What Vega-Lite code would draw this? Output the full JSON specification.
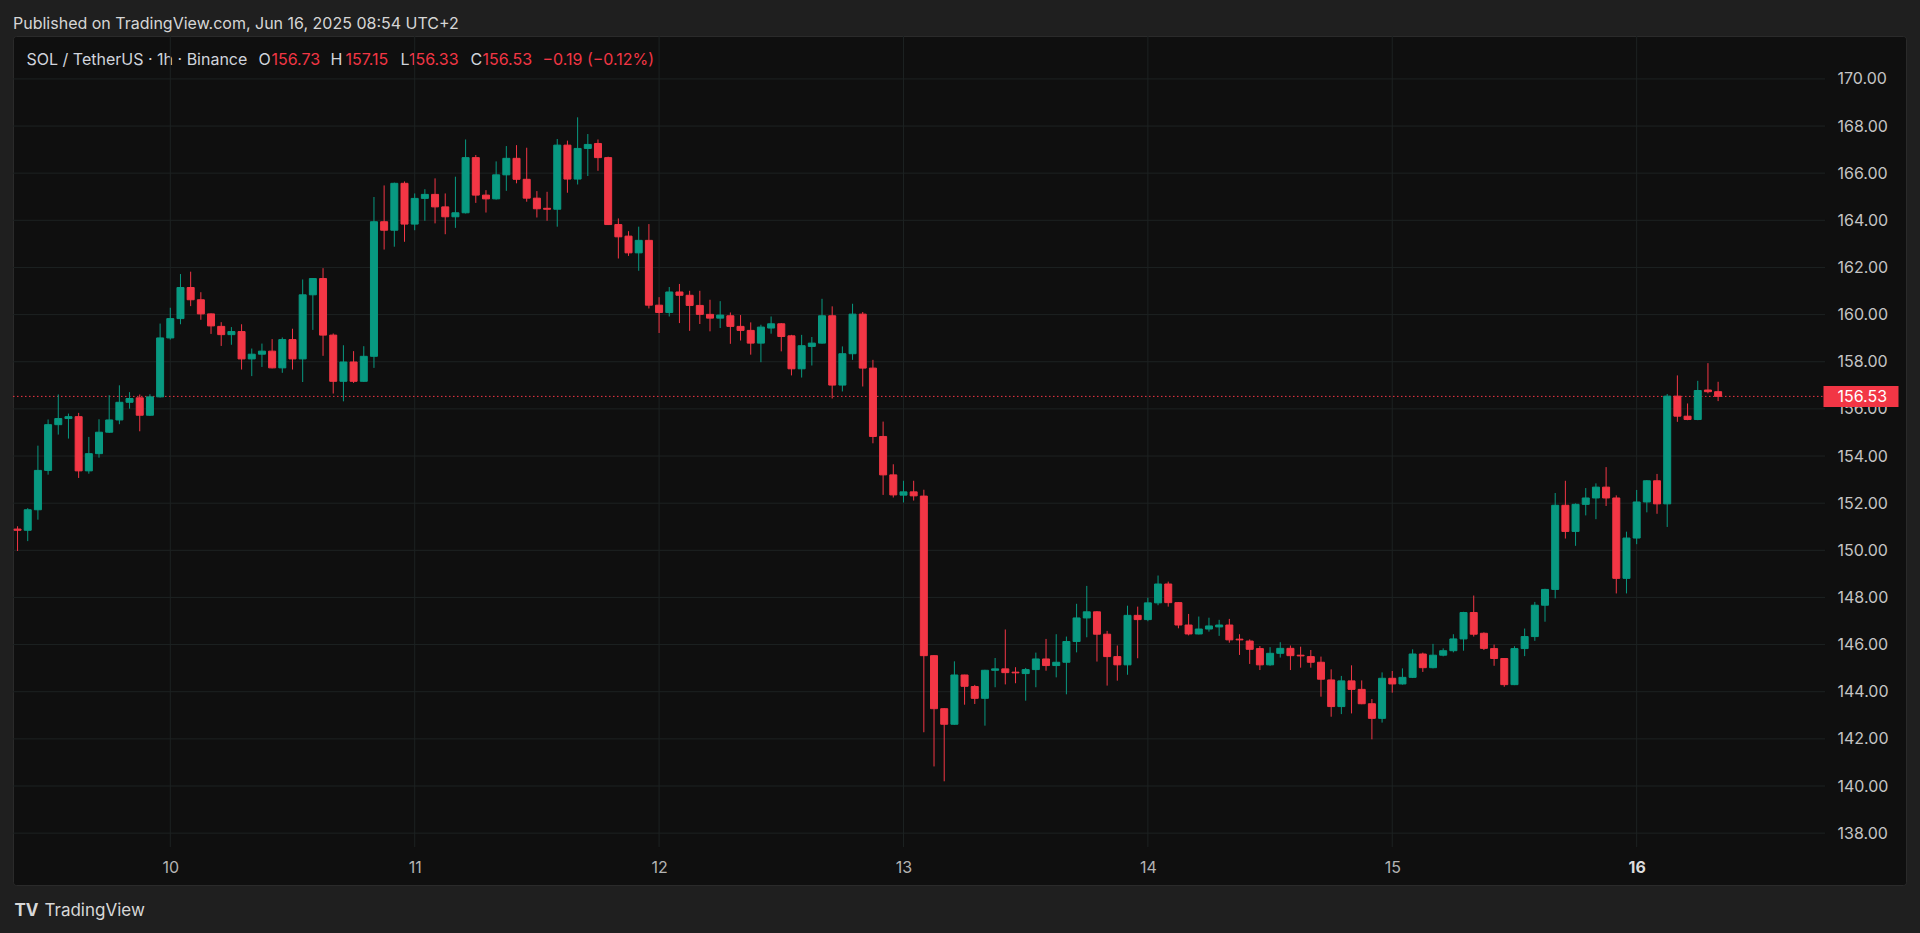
{
"$schema": "https://vega.github.io/schema/vega-lite/v6.json",
"width": 1893, "height": 849,
"autosize": {"type": "none"},
"padding": {"left": 13, "top": 36, "right": 14, "bottom": 48},
"background": "#1f1f1f",
"title": {"text": "Published on TradingView.com, Jun 16, 2025 08:54 UTC+2", "anchor": "start", "frame": "group", "orient": "top", "offset": 9, "dy": 18, "baseline": "alphabetic", "font": "Inter", "fontSize": 16, "fontWeight": "normal", "color": "#d6d6d6"},
"config": {
  "view": {"fill": "#0f0f0f", "stroke": "#2a2a2a", "strokeWidth": 1, "cornerRadius": 3},
  "axis": {"grid": false, "domain": false, "ticks": false, "labels": false, "labelFont": "Inter", "labelFontSize": 16, "labelColor": "#c4c4c4", "titleFont": "Inter", "titleFontSize": 16, "titleFontWeight": "normal", "titleAngle": 0, "titleAlign": "left", "titleBaseline": "alphabetic", "titleColor": "#d1d4dc", "titlePadding": 0, "offset": 0},
  "axisX": {"titleAngle": 0},
  "axisY": {"titleAngle": 0}
},
"datasets": {
"candles": [
{"t":"2025-06-09T09:00:00Z","o":150.90,"h":151.02,"l":149.97,"c":150.85},
{"t":"2025-06-09T10:00:00Z","o":150.85,"h":151.79,"l":150.39,"c":151.72},
{"t":"2025-06-09T11:00:00Z","o":151.72,"h":154.44,"l":151.30,"c":153.39},
{"t":"2025-06-09T12:00:00Z","o":153.39,"h":155.55,"l":153.21,"c":155.33},
{"t":"2025-06-09T13:00:00Z","o":155.33,"h":156.61,"l":154.91,"c":155.59},
{"t":"2025-06-09T14:00:00Z","o":155.59,"h":155.80,"l":154.74,"c":155.67},
{"t":"2025-06-09T15:00:00Z","o":155.67,"h":155.83,"l":153.07,"c":153.37},
{"t":"2025-06-09T16:00:00Z","o":153.37,"h":154.81,"l":153.25,"c":154.10},
{"t":"2025-06-09T17:00:00Z","o":154.10,"h":155.56,"l":153.93,"c":155.01},
{"t":"2025-06-09T18:00:00Z","o":155.01,"h":156.58,"l":154.98,"c":155.53},
{"t":"2025-06-09T19:00:00Z","o":155.53,"h":157.00,"l":155.35,"c":156.28},
{"t":"2025-06-09T20:00:00Z","o":156.28,"h":156.71,"l":156.01,"c":156.44},
{"t":"2025-06-09T21:00:00Z","o":156.47,"h":156.61,"l":155.05,"c":155.73},
{"t":"2025-06-09T22:00:00Z","o":155.73,"h":156.62,"l":155.70,"c":156.51},
{"t":"2025-06-09T23:00:00Z","o":156.51,"h":159.62,"l":156.48,"c":159.01},
{"t":"2025-06-10T00:00:00Z","o":159.01,"h":160.29,"l":158.94,"c":159.83},
{"t":"2025-06-10T01:00:00Z","o":159.83,"h":161.72,"l":159.59,"c":161.15},
{"t":"2025-06-10T02:00:00Z","o":161.15,"h":161.82,"l":160.36,"c":160.63},
{"t":"2025-06-10T03:00:00Z","o":160.63,"h":160.95,"l":159.78,"c":160.03},
{"t":"2025-06-10T04:00:00Z","o":160.03,"h":160.05,"l":159.18,"c":159.52},
{"t":"2025-06-10T05:00:00Z","o":159.50,"h":159.68,"l":158.67,"c":159.15},
{"t":"2025-06-10T06:00:00Z","o":159.15,"h":159.47,"l":158.72,"c":159.28},
{"t":"2025-06-10T07:00:00Z","o":159.28,"h":159.59,"l":157.67,"c":158.12},
{"t":"2025-06-10T08:00:00Z","o":158.12,"h":158.56,"l":157.39,"c":158.32},
{"t":"2025-06-10T09:00:00Z","o":158.32,"h":158.77,"l":157.78,"c":158.45},
{"t":"2025-06-10T10:00:00Z","o":158.45,"h":158.96,"l":157.72,"c":157.74},
{"t":"2025-06-10T11:00:00Z","o":157.74,"h":159.03,"l":157.53,"c":158.94},
{"t":"2025-06-10T12:00:00Z","o":158.94,"h":159.40,"l":157.67,"c":158.12},
{"t":"2025-06-10T13:00:00Z","o":158.12,"h":161.49,"l":157.14,"c":160.84},
{"t":"2025-06-10T14:00:00Z","o":160.84,"h":161.55,"l":159.35,"c":161.53},
{"t":"2025-06-10T15:00:00Z","o":161.53,"h":161.97,"l":158.25,"c":159.13},
{"t":"2025-06-10T16:00:00Z","o":159.13,"h":159.20,"l":156.65,"c":157.17},
{"t":"2025-06-10T17:00:00Z","o":157.17,"h":158.70,"l":156.32,"c":157.99},
{"t":"2025-06-10T18:00:00Z","o":157.99,"h":158.45,"l":157.10,"c":157.17},
{"t":"2025-06-10T19:00:00Z","o":157.17,"h":158.66,"l":157.15,"c":158.23},
{"t":"2025-06-10T20:00:00Z","o":158.23,"h":164.99,"l":157.74,"c":163.94},
{"t":"2025-06-10T21:00:00Z","o":163.94,"h":165.48,"l":162.76,"c":163.58},
{"t":"2025-06-10T22:00:00Z","o":163.58,"h":165.60,"l":162.88,"c":165.57},
{"t":"2025-06-10T23:00:00Z","o":165.57,"h":165.65,"l":163.09,"c":163.84},
{"t":"2025-06-11T00:00:00Z","o":163.84,"h":165.14,"l":163.58,"c":164.93},
{"t":"2025-06-11T01:00:00Z","o":164.93,"h":165.32,"l":163.98,"c":165.10},
{"t":"2025-06-11T02:00:00Z","o":165.10,"h":165.78,"l":163.87,"c":164.57},
{"t":"2025-06-11T03:00:00Z","o":164.57,"h":165.14,"l":163.41,"c":164.15},
{"t":"2025-06-11T04:00:00Z","o":164.15,"h":165.85,"l":163.68,"c":164.32},
{"t":"2025-06-11T05:00:00Z","o":164.32,"h":167.43,"l":164.29,"c":166.66},
{"t":"2025-06-11T06:00:00Z","o":166.66,"h":166.77,"l":164.74,"c":165.07},
{"t":"2025-06-11T07:00:00Z","o":165.07,"h":165.28,"l":164.33,"c":164.91},
{"t":"2025-06-11T08:00:00Z","o":164.91,"h":166.50,"l":164.88,"c":165.93},
{"t":"2025-06-11T09:00:00Z","o":165.93,"h":167.15,"l":165.25,"c":166.63},
{"t":"2025-06-11T10:00:00Z","o":166.63,"h":167.19,"l":165.57,"c":165.74},
{"t":"2025-06-11T11:00:00Z","o":165.74,"h":167.08,"l":164.79,"c":164.94},
{"t":"2025-06-11T12:00:00Z","o":164.94,"h":165.24,"l":164.12,"c":164.49},
{"t":"2025-06-11T13:00:00Z","o":164.51,"h":165.21,"l":163.98,"c":164.47},
{"t":"2025-06-11T14:00:00Z","o":164.47,"h":167.45,"l":163.73,"c":167.19},
{"t":"2025-06-11T15:00:00Z","o":167.19,"h":167.38,"l":165.17,"c":165.75},
{"t":"2025-06-11T16:00:00Z","o":165.75,"h":168.37,"l":165.52,"c":167.05},
{"t":"2025-06-11T17:00:00Z","o":167.05,"h":167.66,"l":165.88,"c":167.22},
{"t":"2025-06-11T18:00:00Z","o":167.26,"h":167.43,"l":166.10,"c":166.66},
{"t":"2025-06-11T19:00:00Z","o":166.66,"h":166.70,"l":163.80,"c":163.82},
{"t":"2025-06-11T20:00:00Z","o":163.82,"h":164.08,"l":162.38,"c":163.30},
{"t":"2025-06-11T21:00:00Z","o":163.33,"h":163.54,"l":162.49,"c":162.62},
{"t":"2025-06-11T22:00:00Z","o":162.62,"h":163.73,"l":161.86,"c":163.15},
{"t":"2025-06-11T23:00:00Z","o":163.15,"h":163.84,"l":160.26,"c":160.40},
{"t":"2025-06-12T00:00:00Z","o":160.40,"h":160.74,"l":159.22,"c":160.09},
{"t":"2025-06-12T01:00:00Z","o":160.09,"h":161.17,"l":159.92,"c":160.96},
{"t":"2025-06-12T02:00:00Z","o":160.96,"h":161.30,"l":159.64,"c":160.82},
{"t":"2025-06-12T03:00:00Z","o":160.82,"h":161.01,"l":159.31,"c":160.39},
{"t":"2025-06-12T04:00:00Z","o":160.39,"h":161.01,"l":159.60,"c":160.01},
{"t":"2025-06-12T05:00:00Z","o":160.01,"h":160.63,"l":159.29,"c":159.85},
{"t":"2025-06-12T06:00:00Z","o":159.85,"h":160.57,"l":159.43,"c":159.98},
{"t":"2025-06-12T07:00:00Z","o":159.95,"h":160.09,"l":158.76,"c":159.50},
{"t":"2025-06-12T08:00:00Z","o":159.50,"h":159.98,"l":158.90,"c":159.33},
{"t":"2025-06-12T09:00:00Z","o":159.33,"h":159.67,"l":158.30,"c":158.79},
{"t":"2025-06-12T10:00:00Z","o":158.79,"h":159.57,"l":157.98,"c":159.47},
{"t":"2025-06-12T11:00:00Z","o":159.43,"h":159.92,"l":159.19,"c":159.61},
{"t":"2025-06-12T12:00:00Z","o":159.61,"h":159.64,"l":158.44,"c":159.07},
{"t":"2025-06-12T13:00:00Z","o":159.10,"h":159.14,"l":157.42,"c":157.70},
{"t":"2025-06-12T14:00:00Z","o":157.70,"h":159.14,"l":157.33,"c":158.68},
{"t":"2025-06-12T15:00:00Z","o":158.65,"h":159.05,"l":157.84,"c":158.79},
{"t":"2025-06-12T16:00:00Z","o":158.79,"h":160.67,"l":158.77,"c":159.95},
{"t":"2025-06-12T17:00:00Z","o":159.95,"h":160.35,"l":156.44,"c":157.01},
{"t":"2025-06-12T18:00:00Z","o":157.01,"h":158.65,"l":156.74,"c":158.34},
{"t":"2025-06-12T19:00:00Z","o":158.34,"h":160.46,"l":158.08,"c":160.02},
{"t":"2025-06-12T20:00:00Z","o":160.02,"h":160.11,"l":156.95,"c":157.73},
{"t":"2025-06-12T21:00:00Z","o":157.73,"h":158.08,"l":154.54,"c":154.83},
{"t":"2025-06-12T22:00:00Z","o":154.83,"h":155.46,"l":152.35,"c":153.20},
{"t":"2025-06-12T23:00:00Z","o":153.20,"h":153.65,"l":152.24,"c":152.35},
{"t":"2025-06-13T00:00:00Z","o":152.34,"h":152.95,"l":152.03,"c":152.48},
{"t":"2025-06-13T01:00:00Z","o":152.48,"h":152.95,"l":152.11,"c":152.31},
{"t":"2025-06-13T02:00:00Z","o":152.30,"h":152.57,"l":142.28,"c":145.53},
{"t":"2025-06-13T03:00:00Z","o":145.53,"h":145.55,"l":140.83,"c":143.28},
{"t":"2025-06-13T04:00:00Z","o":143.28,"h":143.30,"l":140.20,"c":142.62},
{"t":"2025-06-13T05:00:00Z","o":142.62,"h":145.29,"l":142.60,"c":144.71},
{"t":"2025-06-13T06:00:00Z","o":144.71,"h":144.72,"l":143.45,"c":144.23},
{"t":"2025-06-13T07:00:00Z","o":144.22,"h":144.29,"l":143.48,"c":143.72},
{"t":"2025-06-13T08:00:00Z","o":143.72,"h":144.93,"l":142.56,"c":144.91},
{"t":"2025-06-13T09:00:00Z","o":144.91,"h":145.43,"l":144.19,"c":144.97},
{"t":"2025-06-13T10:00:00Z","o":144.97,"h":146.64,"l":144.31,"c":144.81},
{"t":"2025-06-13T11:00:00Z","o":144.83,"h":145.04,"l":144.36,"c":144.80},
{"t":"2025-06-13T12:00:00Z","o":144.77,"h":145.01,"l":143.62,"c":144.94},
{"t":"2025-06-13T13:00:00Z","o":144.94,"h":145.66,"l":144.19,"c":145.39},
{"t":"2025-06-13T14:00:00Z","o":145.39,"h":146.24,"l":144.89,"c":145.11},
{"t":"2025-06-13T15:00:00Z","o":145.11,"h":146.44,"l":144.61,"c":145.25},
{"t":"2025-06-13T16:00:00Z","o":145.25,"h":146.34,"l":143.89,"c":146.13},
{"t":"2025-06-13T17:00:00Z","o":146.13,"h":147.73,"l":145.67,"c":147.13},
{"t":"2025-06-13T18:00:00Z","o":147.13,"h":148.49,"l":146.31,"c":147.39},
{"t":"2025-06-13T19:00:00Z","o":147.39,"h":147.42,"l":145.28,"c":146.44},
{"t":"2025-06-13T20:00:00Z","o":146.44,"h":146.58,"l":144.26,"c":145.49},
{"t":"2025-06-13T21:00:00Z","o":145.49,"h":145.96,"l":144.47,"c":145.14},
{"t":"2025-06-13T22:00:00Z","o":145.14,"h":147.65,"l":144.72,"c":147.24},
{"t":"2025-06-13T23:00:00Z","o":147.24,"h":147.61,"l":145.42,"c":147.06},
{"t":"2025-06-14T00:00:00Z","o":147.06,"h":147.99,"l":146.99,"c":147.77},
{"t":"2025-06-14T01:00:00Z","o":147.77,"h":148.93,"l":147.67,"c":148.57},
{"t":"2025-06-14T02:00:00Z","o":148.57,"h":148.67,"l":147.61,"c":147.78},
{"t":"2025-06-14T03:00:00Z","o":147.78,"h":147.80,"l":146.69,"c":146.83},
{"t":"2025-06-14T04:00:00Z","o":146.83,"h":147.30,"l":146.39,"c":146.45},
{"t":"2025-06-14T05:00:00Z","o":146.45,"h":147.19,"l":146.43,"c":146.66},
{"t":"2025-06-14T06:00:00Z","o":146.66,"h":147.14,"l":146.55,"c":146.79},
{"t":"2025-06-14T07:00:00Z","o":146.75,"h":147.05,"l":146.37,"c":146.83},
{"t":"2025-06-14T08:00:00Z","o":146.83,"h":147.09,"l":146.08,"c":146.20},
{"t":"2025-06-14T09:00:00Z","o":146.23,"h":146.44,"l":145.56,"c":146.20},
{"t":"2025-06-14T10:00:00Z","o":146.15,"h":146.22,"l":145.18,"c":145.80},
{"t":"2025-06-14T11:00:00Z","o":145.83,"h":145.94,"l":144.92,"c":145.14},
{"t":"2025-06-14T12:00:00Z","o":145.14,"h":145.89,"l":145.10,"c":145.63},
{"t":"2025-06-14T13:00:00Z","o":145.63,"h":146.10,"l":145.45,"c":145.84},
{"t":"2025-06-14T14:00:00Z","o":145.84,"h":145.96,"l":144.92,"c":145.53},
{"t":"2025-06-14T15:00:00Z","o":145.55,"h":145.91,"l":145.02,"c":145.52},
{"t":"2025-06-14T16:00:00Z","o":145.49,"h":145.77,"l":145.02,"c":145.25},
{"t":"2025-06-14T17:00:00Z","o":145.25,"h":145.49,"l":143.79,"c":144.53},
{"t":"2025-06-14T18:00:00Z","o":144.50,"h":144.95,"l":142.94,"c":143.37},
{"t":"2025-06-14T19:00:00Z","o":143.37,"h":144.67,"l":143.05,"c":144.46},
{"t":"2025-06-14T20:00:00Z","o":144.46,"h":145.12,"l":143.08,"c":144.10},
{"t":"2025-06-14T21:00:00Z","o":144.10,"h":144.48,"l":143.47,"c":143.49},
{"t":"2025-06-14T22:00:00Z","o":143.49,"h":143.69,"l":141.98,"c":142.87},
{"t":"2025-06-14T23:00:00Z","o":142.87,"h":144.82,"l":142.69,"c":144.57},
{"t":"2025-06-15T00:00:00Z","o":144.57,"h":144.88,"l":143.96,"c":144.33},
{"t":"2025-06-15T01:00:00Z","o":144.33,"h":144.99,"l":144.30,"c":144.61},
{"t":"2025-06-15T02:00:00Z","o":144.61,"h":145.80,"l":144.58,"c":145.60},
{"t":"2025-06-15T03:00:00Z","o":145.60,"h":145.66,"l":144.84,"c":145.02},
{"t":"2025-06-15T04:00:00Z","o":145.02,"h":146.03,"l":144.99,"c":145.55},
{"t":"2025-06-15T05:00:00Z","o":145.55,"h":145.84,"l":145.50,"c":145.74},
{"t":"2025-06-15T06:00:00Z","o":145.74,"h":146.44,"l":145.67,"c":146.24},
{"t":"2025-06-15T07:00:00Z","o":146.24,"h":147.39,"l":145.74,"c":147.36},
{"t":"2025-06-15T08:00:00Z","o":147.36,"h":148.08,"l":146.34,"c":146.44},
{"t":"2025-06-15T09:00:00Z","o":146.48,"h":146.52,"l":145.77,"c":145.84},
{"t":"2025-06-15T10:00:00Z","o":145.83,"h":146.00,"l":145.10,"c":145.41},
{"t":"2025-06-15T11:00:00Z","o":145.41,"h":145.43,"l":144.21,"c":144.30},
{"t":"2025-06-15T12:00:00Z","o":144.30,"h":145.93,"l":144.28,"c":145.83},
{"t":"2025-06-15T13:00:00Z","o":145.83,"h":146.68,"l":145.51,"c":146.34},
{"t":"2025-06-15T14:00:00Z","o":146.34,"h":147.81,"l":146.16,"c":147.67},
{"t":"2025-06-15T15:00:00Z","o":147.67,"h":148.37,"l":146.97,"c":148.34},
{"t":"2025-06-15T16:00:00Z","o":148.34,"h":152.43,"l":147.96,"c":151.91},
{"t":"2025-06-15T17:00:00Z","o":151.91,"h":152.95,"l":150.50,"c":150.80},
{"t":"2025-06-15T18:00:00Z","o":150.80,"h":151.99,"l":150.19,"c":151.95},
{"t":"2025-06-15T19:00:00Z","o":151.95,"h":152.64,"l":151.48,"c":152.22},
{"t":"2025-06-15T20:00:00Z","o":152.22,"h":152.84,"l":151.32,"c":152.68},
{"t":"2025-06-15T21:00:00Z","o":152.68,"h":153.53,"l":151.88,"c":152.22},
{"t":"2025-06-15T22:00:00Z","o":152.22,"h":152.33,"l":148.17,"c":148.81},
{"t":"2025-06-15T23:00:00Z","o":148.81,"h":150.79,"l":148.17,"c":150.52},
{"t":"2025-06-16T00:00:00Z","o":150.52,"h":152.56,"l":150.26,"c":152.05},
{"t":"2025-06-16T01:00:00Z","o":152.05,"h":152.98,"l":151.61,"c":152.95},
{"t":"2025-06-16T02:00:00Z","o":152.95,"h":153.24,"l":151.55,"c":151.97},
{"t":"2025-06-16T03:00:00Z","o":151.97,"h":156.63,"l":150.99,"c":156.54},
{"t":"2025-06-16T04:00:00Z","o":156.54,"h":157.42,"l":155.45,"c":155.69},
{"t":"2025-06-16T05:00:00Z","o":155.69,"h":156.23,"l":155.52,"c":155.55},
{"t":"2025-06-16T06:00:00Z","o":155.55,"h":157.19,"l":155.52,"c":156.78},
{"t":"2025-06-16T07:00:00Z","o":156.80,"h":157.94,"l":156.66,"c":156.73},
{"t":"2025-06-16T08:00:00Z","o":156.73,"h":157.15,"l":156.33,"c":156.53}
],
"hgrid": [{"p":138},{"p":140},{"p":142},{"p":144},{"p":146},{"p":148},{"p":150},{"p":152},{"p":154},{"p":156},{"p":158},{"p":160},{"p":162},{"p":164},{"p":166},{"p":168},{"p":170}],
"vgrid": [{"d":"2025-06-10T00:00:00Z"},{"d":"2025-06-11T00:00:00Z"},{"d":"2025-06-12T00:00:00Z"},{"d":"2025-06-13T00:00:00Z"},{"d":"2025-06-14T00:00:00Z"},{"d":"2025-06-15T00:00:00Z"},{"d":"2025-06-16T00:00:00Z"}],
"last": [{"price":156.53}]
},
"resolve": {"axis": {"x": "independent", "y": "independent"}},
"layer": [
{
 "data": {"name": "hgrid"},
 "mark": {"type": "rule", "color": "#1d2222", "strokeWidth": 1},
 "encoding": {
  "y": {"field": "p", "type": "quantitative", "scale": {"domain": [135.80, 171.82], "nice": false, "zero": false, "padding": 0},
        "axis": {"orient": "left", "title": "156.53", "titleX": 469, "titleY": 28, "titleColor": "#F23645"}},
  "x": {"datum": {"year": 2025, "month": 6, "date": 9, "hours": 8, "minutes": 33, "seconds": 12, "utc": true}, "type": "temporal",
        "scale": {"type": "utc", "padding": 0, "domain": [{"year": 2025, "month": 6, "date": 9, "hours": 8, "minutes": 33, "seconds": 12, "utc": true}, {"year": 2025, "month": 6, "date": 17, "hours": 2, "minutes": 27, "utc": true}]},
        "axis": {"orient": "top", "title": "C", "titleX": 457, "titleY": 28}},
  "x2": {"datum": {"year": 2025, "month": 6, "date": 16, "hours": 18, "minutes": 30, "utc": true}}
 }
},
{
 "data": {"name": "vgrid"},
 "mark": {"type": "rule", "color": "#1d2222", "strokeWidth": 1},
 "encoding": {
  "x": {"field": "d", "type": "temporal", "axis": {"orient": "top", "title": "−0.19 (−0.12%)", "titleX": 529, "titleY": 28, "titleColor": "#F23645"}},
  "y": {"datum": 171.82, "type": "quantitative", "axis": {"orient": "left", "title": "TV", "titleX": 1, "titleY": 874, "titleBaseline": "middle", "titleFontSize": 17, "titleFontWeight": "bold", "titleColor": "#d8d8d8"}},
  "y2": {"datum": 137.41}
 }
},
{
 "data": {"name": "last"},
 "mark": {"type": "rule", "color": "#F23645", "strokeWidth": 1, "strokeDash": [1.5, 2.5]},
 "encoding": {
  "y": {"field": "price", "type": "quantitative",
        "axis": {"orient": "right", "values": [156.53], "format": ".2f", "labels": true, "ticks": true, "tickSize": 75, "tickWidth": 21, "tickColor": "#F23645", "tickCap": "butt", "labelPadding": -61, "offset": -83, "labelColor": "#ffffff", "labelFontSize": 16, "labelBaseline": "middle", "labelAlign": "left", "labelFlush": false, "labelOverlap": false, "zindex": 1, "title": null}},
  "x": {"datum": {"year": 2025, "month": 6, "date": 9, "hours": 8, "minutes": 33, "seconds": 12, "utc": true}, "type": "temporal",
        "axis": {"orient": "top", "title": "156.33", "titleX": 395.5, "titleY": 28, "titleColor": "#F23645"}},
  "x2": {"datum": {"year": 2025, "month": 6, "date": 16, "hours": 18, "minutes": 30, "utc": true}}
 }
},
{
 "data": {"name": "candles"},
 "transform": [{"filter": "datum.c >= datum.o"}],
 "mark": {"type": "rule", "color": "#089981", "strokeWidth": 1},
 "encoding": {
  "x": {"field": "t", "type": "temporal",
        "axis": {"orient": "bottom", "values": [{"year": 2025, "month": 6, "date": 10, "utc": true}, {"year": 2025, "month": 6, "date": 11, "utc": true}, {"year": 2025, "month": 6, "date": 12, "utc": true}, {"year": 2025, "month": 6, "date": 13, "utc": true}, {"year": 2025, "month": 6, "date": 14, "utc": true}, {"year": 2025, "month": 6, "date": 15, "utc": true}, {"year": 2025, "month": 6, "date": 16, "utc": true}],
                 "format": "%-d", "labels": true, "labelFontSize": 16, "labelBaseline": "middle", "labelPadding": 0, "offset": -17.7, "labelFlush": false, "labelOverlap": false,
                 "labelColor": {"condition": {"test": "utcdate(datum.value) === 16", "value": "#dcdcdc"}, "value": "#b4b4b4"},
                 "labelFontWeight": {"condition": {"test": "utcdate(datum.value) === 16", "value": "bold"}, "value": "normal"},
                 "title": "TradingView", "titleX": 31, "titleY": 42.7, "titleBaseline": "middle", "titleFontSize": 17, "titleColor": "#d8d8d8"}},
  "y": {"field": "l", "type": "quantitative",
        "axis": {"orient": "right", "values": [138, 140, 142, 144, 146, 148, 150, 152, 154, 156, 158, 160, 162, 164, 166, 168, 170], "format": ".2f", "labels": true, "labelFontSize": 16, "labelColor": "#c4c4c4", "labelBaseline": "middle", "labelAlign": "left", "labelPadding": 0, "offset": -69, "labelFlush": false, "labelOverlap": false, "title": null}},
  "y2": {"field": "h"}
 }
},
{
 "data": {"name": "candles"},
 "transform": [{"filter": "datum.c < datum.o"}],
 "mark": {"type": "rule", "color": "#F23645", "strokeWidth": 1},
 "encoding": {
  "x": {"field": "t", "type": "temporal", "axis": {"orient": "top", "title": "SOL / TetherUS · 1h · Binance", "titleX": 13, "titleY": 28}},
  "y": {"field": "l", "type": "quantitative", "axis": {"orient": "left", "title": "O", "titleX": 245, "titleY": 28}},
  "y2": {"field": "h"}
 }
},
{
 "data": {"name": "candles"},
 "transform": [{"filter": "datum.c >= datum.o"}],
 "mark": {"type": "bar", "width": 7, "color": "#089981", "stroke": "#089981", "strokeWidth": 1},
 "encoding": {
  "x": {"field": "t", "type": "temporal", "axis": {"orient": "top", "title": "156.73", "titleX": 258, "titleY": 28, "titleColor": "#F23645"}},
  "y": {"field": "o", "type": "quantitative", "axis": {"orient": "left", "title": "H", "titleX": 317, "titleY": 28}},
  "y2": {"field": "c"}
 }
},
{
 "data": {"name": "candles"},
 "transform": [{"filter": "datum.c < datum.o"}],
 "mark": {"type": "bar", "width": 7, "color": "#F23645", "stroke": "#F23645", "strokeWidth": 1},
 "encoding": {
  "x": {"field": "t", "type": "temporal", "axis": {"orient": "top", "title": "157.15", "titleX": 332, "titleY": 28, "titleColor": "#F23645"}},
  "y": {"field": "o", "type": "quantitative", "axis": {"orient": "left", "title": "L", "titleX": 387, "titleY": 28}},
  "y2": {"field": "c"}
 }
}
]
}
